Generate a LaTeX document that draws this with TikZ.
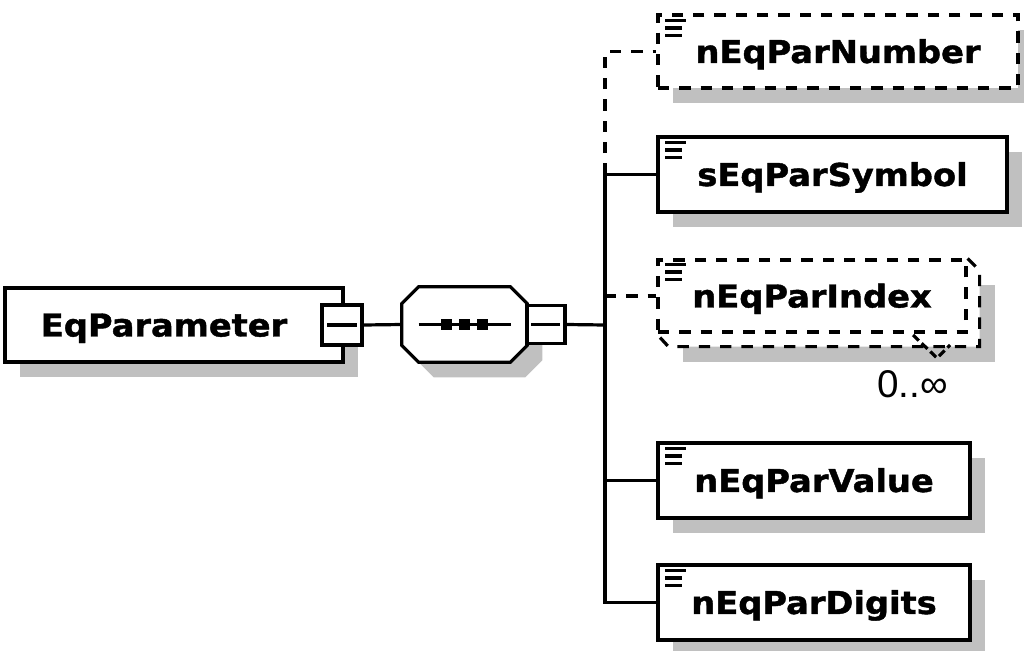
\documentclass[tikz,border=0pt]{standalone}
\usepackage{fontspec}
\newfontfamily\elfont[FakeStretch=1.07, FakeBold=1.3]{DejaVu Sans Bold}
\newfontfamily\occfont{Liberation Sans}
\usetikzlibrary{calc,shadows,backgrounds}
\definecolor{shadowgray}{HTML}{C0C0C0}
\tikzset{
  lw/.style={line width=2.4pt},
  dashpat/.style={dash pattern=on 8.5pt off 7.5pt},
  shad/.style={drop shadow={shadow xshift=11.25pt, shadow yshift=-11.25pt, opacity=1, fill=shadowgray}},
  elem/.style={draw, lw, fill=white, inner sep=0pt,
    font=\elfont\fontsize{23.6pt}{27pt}\selectfont,
    text height=17.2pt, text depth=0pt},
  shelem/.style={elem, shad},
  pmbox/.style={draw, lw, fill=white, minimum size=30pt, inner sep=0pt},
  conn/.style={lw},
  optconn/.style={lw, dashpat},
  iconline/.style={line width=2.4pt},
  octpath/.style={insert path={
    ($(seq.north west)+(17+#1,#1)$) -- ($(seq.north east)+(-17+#1,#1)$) --
    ($(seq.north east)+(#1,17+#1)$) -- ($(seq.south east)+(#1,-17+#1)$) --
    ($(seq.south east)+(-17+#1,#1)$) -- ($(seq.south west)+(17+#1,#1)$) --
    ($(seq.south west)+(#1,-17+#1)$) -- ($(seq.north west)+(#1,17+#1)$) -- cycle}},
}
\newcommand{\elicon}[2]{%
  \draw[iconline] ($(#1.north west)+(9,#2)$) -- ++(21,0);
  \draw[iconline] ($(#1.north west)+(9,#2+7.5)$) -- ++(17,0);
  \draw[iconline] ($(#1.north west)+(9,#2+15)$) -- ++(17,0);
}
\begin{document}
\begin{tikzpicture}[x=0.75pt,y=-0.75pt]
\useasboundingbox (0,0) rectangle (1024,650);

% root element
\node[shelem, minimum width=253.5pt, minimum height=55.5pt] (eqp) at (174,325) {EqParameter\hspace*{15pt}};
\node[pmbox] (pm1) at (342,325) {};
\draw[lw] ($(pm1.west)+(7,0)$) -- ($(pm1.east)+(-7,0)$);

% sequence compositor
\node[minimum width=93.75pt, minimum height=56.25pt, inner sep=0pt] (seq) at (464.5,324.5) {};
\fill[shadowgray, octpath=15];
\draw[lw, fill=white, octpath=0];
\draw[lw] ($(seq.center)+(-46,0)$) -- ($(seq.center)+(46,0)$);
\foreach \dx in {-18,0,18}{
  \fill ($(seq.center)+(\dx-5.5,-5.5)$) rectangle ($(seq.center)+(\dx+5.5,5.5)$);
}
\node[pmbox, minimum size=28.5pt] (pm2) at (546,324.5) {};
\draw[lw] ($(pm2.west)+(6,0)$) -- ($(pm2.east)+(-7,0)$);
\draw[conn] (pm1.east) -- (seq.west);

% children
\node[shelem, dashpat, minimum width=270pt, minimum height=54.75pt] (num) at (838,51.5) {nEqParNumber};
\node[shelem, minimum width=261.75pt, minimum height=56.25pt] (sym) at (832.5,174.5) {sEqParSymbol};
\node[elem, dashpat, minimum width=231pt, minimum height=54pt] (idx) at (812,296) {nEqParIndex};
\node[shelem, minimum width=234pt, minimum height=56.25pt] (val) at (814,480.5) {nEqParValue};
\node[shelem, minimum width=234pt, minimum height=56.25pt] (dig) at (814,602.5) {nEqParDigits};

\begin{scope}[on background layer]
  \fill[shadowgray] ($(idx.north west)+(27,27)$) rectangle ($(idx.south east)+(27,28)$);
  \fill[white] (idx.north east) -- ($(idx.north east)+(12,12)$) -- ($(idx.south east)+(12,13)$)
    -- ($(idx.south west)+(12,13)$) -- (idx.south west) -- cycle;
  \draw[lw, dashpat] (idx.north east) -- ($(idx.north east)+(12,12)$) -- ($(idx.south east)+(12,13)$)
    -- ($(idx.south west)+(12,13)$) -- (idx.south west);
\end{scope}

\elicon{num}{7}
\elicon{sym}{7}
\elicon{idx}{6}
\elicon{val}{7}
\elicon{dig}{7}

% occurrence marker
\draw[lw, dash pattern=on 6pt off 3pt] (913,335) -- (937,358) -- (950,345);
\node[font=\occfont\fontsize{29pt}{32pt}\selectfont, anchor=base, inner sep=0pt] (occ) at (912.5,397) {0..∞};

% connectors
\coordinate (bus) at (605,325);
\draw[conn] (pm2.east) -- (bus);
\draw[conn] (sym.west) -- (bus |- sym.west) -- (bus |- dig.west) -- (dig.west);
\draw[conn] (bus |- val.west) -- (val.west);
\draw[optconn] (bus |- sym.west) -- (bus |- num.west) -- (num.west);
\draw[optconn] (bus |- idx.west) -- (idx.west);
\end{tikzpicture}
\end{document}
